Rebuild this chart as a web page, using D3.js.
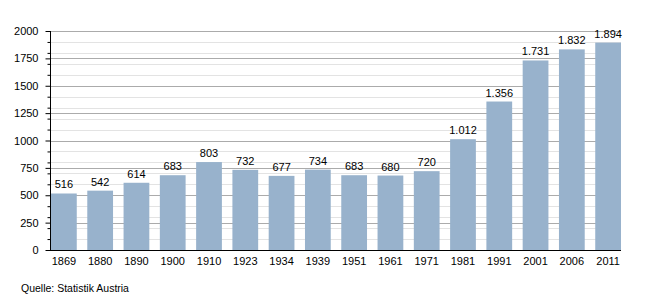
<!DOCTYPE html>
<html>
<head>
<meta charset="utf-8">
<script src="https://cdn.jsdelivr.net/npm/d3@7"></script>
<style>
  body { margin: 0; background: #fff; }
  text { font-family: "Liberation Sans", Arial, sans-serif; fill: #000; }
</style>
</head>
<body>
<div id="canvas"></div>
<script>
var years = ["1869", "1880", "1890", "1900", "1910", "1923", "1934", "1939", "1951", "1961", "1971", "1981", "1991", "2001", "2006", "2011"];
var population = [516, 542, 614, 683, 803, 732, 677, 734, 683, 680, 720, 1012, 1356, 1731, 1832, 1894];
var majorTicks = [0, 250, 500, 750, 1000, 1250, 1500, 1750, 2000];
var minorTicks = [100, 200, 300, 400, 600, 700, 800, 900, 1100, 1200, 1300, 1400, 1600, 1700, 1800, 1900];
var source = "Quelle: Statistik Austria";

var width = 650, height = 300;
var plotLeft = 50, plotRight = 621, plotTop = 31, plotBottom = 250;

var svg = d3.select("#canvas")
    .append("svg")
    .attr("width", width)
    .attr("height", height);

var x = d3.scaleBand().domain(years).range([plotLeft + 1, plotRight]).paddingInner(0.29).paddingOuter(0);
var y = d3.scaleLinear().domain([0, 2000]).range([plotBottom, plotTop]);

// grid lines, light every 100, darker every 250
svg.append("g").selectAll("line").data(minorTicks).enter().append("line")
    .attr("x1", plotLeft).attr("x2", plotRight)
    .attr("y1", function (d) { return Math.round(y(d)) + 0.5; })
    .attr("y2", function (d) { return Math.round(y(d)) + 0.5; })
    .attr("stroke", "#e3e3e3");

svg.append("g").selectAll("line").data(majorTicks.slice(1)).enter().append("line")
    .attr("x1", plotLeft).attr("x2", plotRight)
    .attr("y1", function (d) { return Math.round(y(d)) + 0.5; })
    .attr("y2", function (d) { return Math.round(y(d)) + 0.5; })
    .attr("stroke", "#ababab");

// bars
svg.append("g").selectAll("rect").data(population).enter().append("rect")
    .attr("x", function (d, i) { return x(years[i]); })
    .attr("y", function (d) { return y(d); })
    .attr("width", x.bandwidth())
    .attr("height", function (d) { return plotBottom - y(d); })
    .style("fill", "#98b2cc");

// value labels (german thousands separator)
var fmt = function (d) { return d3.format(",")(d).replace(/,/g, "."); };
svg.append("g").selectAll("text").data(population).enter().append("text")
    .attr("x", function (d, i) { return x(years[i]) + x.bandwidth() / 2; })
    .attr("y", function (d) { return y(d) - 5; })
    .attr("text-anchor", "middle")
    .style("font-size", "11px")
    .text(fmt);

// y axis
var yAxis = d3.axisLeft(y).tickValues(majorTicks).tickSize(5).tickPadding(7).tickFormat(d3.format("d"));
var ya = svg.append("g").attr("transform", "translate(" + (plotLeft + 0.5) + ",0)").call(yAxis);
ya.select(".domain").attr("d", "M0," + plotTop + "V" + (plotBottom + 1));
ya.selectAll("text").style("font-size", "11px").attr("font-family", null);

var yMinor = d3.axisLeft(y).tickValues(minorTicks).tickSize(3).tickFormat("");
var ym = svg.append("g").attr("transform", "translate(" + (plotLeft + 0.5) + ",0)").call(yMinor);
ym.select(".domain").remove();

// x axis line and labels
var xAxis = d3.axisBottom(x).tickSize(0).tickPadding(7);
var xa = svg.append("g").attr("transform", "translate(0," + (plotBottom + 0.5) + ")").call(xAxis);
xa.select(".domain").attr("d", "M" + plotLeft + ",0H" + plotRight).attr("stroke-width", 1.2);
xa.selectAll("text").style("font-size", "11px").attr("font-family", null);

svg.append("text")
    .attr("x", 21).attr("y", 292)
    .style("font-size", "10.5px")
    .text(source);
</script>
</body>
</html>
